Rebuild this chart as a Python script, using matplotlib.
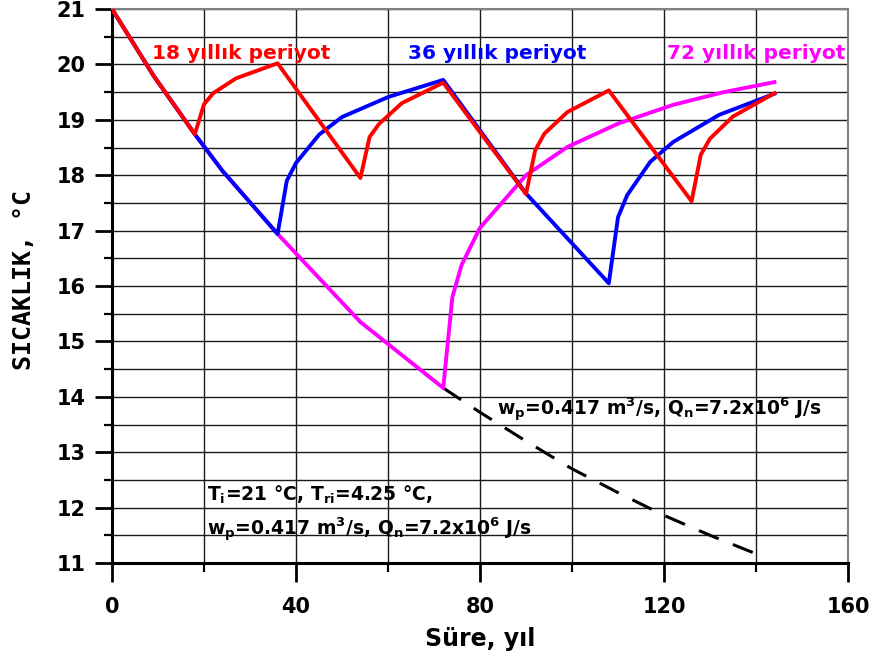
import numpy as np
import matplotlib
matplotlib.use("Agg")
import matplotlib.pyplot as plt
from matplotlib.ticker import MultipleLocator

OUTPUT_PLOT = "out.png"

# -----------------------
# Data
# -----------------------
# 18 yillik periyot
t18 = [0, 9, 18, 20, 22, 27, 36, 54, 56, 58, 63, 72, 90, 92, 94, 99, 108,
       126, 128, 130, 135, 144]
T18 = [21.0, 19.80, 18.74, 19.28, 19.48, 19.75, 20.02, 17.95, 18.69, 18.92, 19.30,
       19.67, 17.66, 18.45, 18.75, 19.14, 19.53, 17.53, 18.37, 18.66, 19.06, 19.48]

# 36 yillik periyot
t36 = [0, 9, 18, 24, 36, 38, 40, 45, 50, 60, 72, 90, 108, 110, 112, 117, 122,
       132, 144]
T36 = [21.0, 19.80, 18.74, 18.08, 16.94, 17.90, 18.22, 18.73, 19.05, 19.41, 19.72,
       17.67, 16.05, 17.24, 17.64, 18.24, 18.60, 19.09, 19.47]

# 72 yillik periyot
t72 = [0, 9, 18, 24, 36, 54, 72, 74, 76, 80, 90, 99, 110, 122, 133, 144]
T72 = [21.0, 19.80, 18.74, 18.08, 16.94, 15.35, 14.16, 15.80, 16.38, 17.05, 18.00,
       18.51, 18.93, 19.27, 19.50, 19.68]

# no recharge continuation (dashed)
t_nr = [72, 80, 90, 100, 110, 120, 130, 142]
T_nr = [14.16, 13.72, 13.20, 12.70, 12.27, 11.86, 11.50, 11.10]

x_ticks = [0, 40, 80, 120, 160]
y_ticks = list(range(11, 22))

# -----------------------
# Plot
# -----------------------
fig = plt.figure(figsize=(8.76, 6.68), dpi=100)
ax = fig.add_axes([112 / 876, 1 - 563 / 668, 736 / 876, 554 / 668])

ax.plot(t_nr, T_nr, color="black", lw=2.2, linestyle=(0, (7, 5)), zorder=3)
ax.plot(t72, T72, color="#ff00ff", lw=2.8, zorder=4)
ax.plot(t36, T36, color="#0000ff", lw=2.8, zorder=5)
ax.plot(t18, T18, color="#ff0000", lw=2.8, zorder=6)

ax.set_xlim(0, 160)
ax.set_ylim(11, 21)
ax.set_xticks(x_ticks)
ax.set_yticks(y_ticks)
ax.xaxis.set_minor_locator(MultipleLocator(20))
ax.yaxis.set_minor_locator(MultipleLocator(0.5))

ax.grid(True, which="both", color="#1a1a1a", lw=1.0)
ax.set_axisbelow(True)

ax.tick_params(axis="x", which="major", length=13.5, width=2, pad=11,
               labelsize=15)
ax.tick_params(axis="x", which="minor", length=6.5, width=1.6)
ax.tick_params(axis="y", which="major", length=12, width=2, pad=7,
               labelsize=15)
ax.tick_params(axis="y", which="minor", length=6, width=1.6)
for lab in ax.get_xticklabels() + ax.get_yticklabels():
    lab.set_fontweight("bold")

for side in ["left", "bottom"]:
    ax.spines[side].set_linewidth(2.2)
    ax.spines[side].set_color("black")
for side in ["top", "right"]:
    ax.spines[side].set_linewidth(1.5)
    ax.spines[side].set_color("#808080")

ax.set_xlabel("Süre, yıl", fontsize=17, fontweight="bold")
ax.xaxis.set_label_coords(0.5, -0.115)
ax.set_ylabel("SICAKLIK, °C", fontsize=18, fontweight="bold",
              family="DejaVu Sans Mono")
ax.yaxis.set_label_coords(-0.103, 0.51)

# period labels
lbl_kw = dict(fontsize=14.5, fontweight="bold", ha="left", va="center")
ax.text(8.7, 20.2, "18 yıllık periyot", color="#ff0000", **lbl_kw)
ax.text(64.3, 20.2, "36 yıllık periyot", color="#0000ff", **lbl_kw)
ax.text(120.7, 20.2, "72 yıllık periyot", color="#ff00ff", **lbl_kw)

# parameter notes
note = (r"w$_\mathregular{p}$=0.417 m$^\mathregular{3}$/s, "
        r"Q$_\mathregular{n}$=7.2x10$^\mathregular{6}$ J/s")
note_kw = dict(fontsize=13.5, fontweight="bold", ha="left", va="center")
ax.text(83.7, 13.76, note, **note_kw)
ax.text(20.6, 12.23, r"T$_\mathregular{i}$=21 °C, T$_\mathregular{ri}$=4.25 °C,",
        **note_kw)
ax.text(20.6, 11.6, note, **note_kw)

fig.savefig(OUTPUT_PLOT, dpi=100)
plt.close(fig)
